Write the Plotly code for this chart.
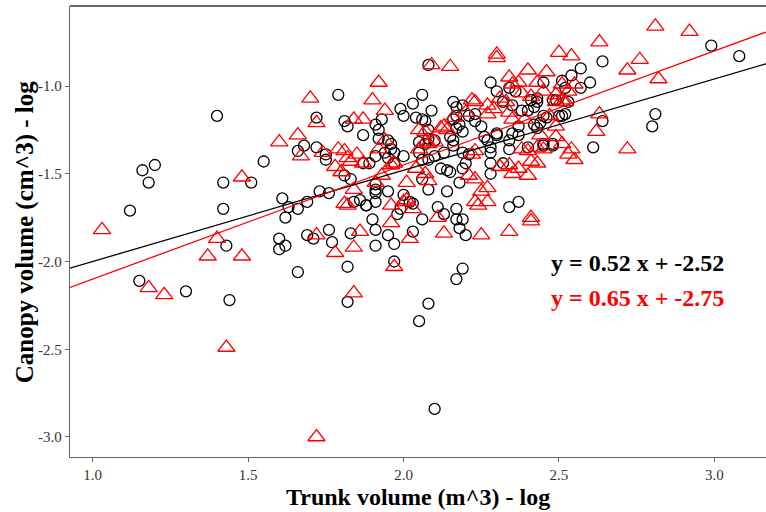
import plotly.graph_objects as go

# ---- data ----
black_x = [2.99, 3.08, 2.64, 2.57, 2.54, 2.60, 2.57, 2.81, 2.80, 2.61, 2.64, 2.51, 2.48, 2.45,
           1.40, 1.16, 1.20, 1.18, 1.12, 1.42, 1.51, 1.55, 1.42, 1.15, 1.30, 1.44, 1.43, 1.61,
           1.62, 1.63, 1.66, 1.69, 1.73, 1.76, 1.60, 1.60, 1.62, 1.66, 1.69, 1.71, 1.76, 1.77,
           1.82, 1.82, 1.83, 1.84, 1.86, 1.88, 1.79, 1.72, 1.66, 1.68, 1.72, 1.75, 1.75,
           2.08, 2.06, 2.03, 1.99, 2.00, 2.04, 2.06, 2.07, 2.09, 2.08, 1.81, 1.82, 1.87, 1.91,
           1.93, 1.92, 1.95, 1.96, 1.92, 1.96, 1.97, 2.00, 1.95, 1.94, 1.97, 1.91, 1.87, 1.81,
           1.83, 1.89, 1.91, 1.91, 1.91, 1.95, 2.00, 1.98, 2.02, 2.03, 1.99, 2.06, 2.03, 1.95,
           1.97, 1.91, 1.91, 1.90, 1.88, 1.91, 1.97, 2.05, 2.08, 2.10, 2.17, 2.19, 2.17, 2.19,
           2.17, 2.18, 2.20, 2.11, 2.13, 2.14, 2.08, 2.06, 2.12, 2.14, 2.15, 2.18, 2.19, 2.20,
           2.21, 2.19, 2.16, 2.16, 2.13, 2.10, 2.08, 2.06, 2.05, 2.05, 2.07, 2.08, 2.10, 2.15,
           2.17, 2.19, 2.18, 2.16, 2.17, 2.17, 2.16, 2.19, 2.21, 2.23, 2.23, 2.25, 2.26, 2.27,
           2.28, 2.28, 2.28, 2.28, 2.30, 2.30, 2.32, 2.34, 2.37, 2.34, 2.35, 2.37, 2.28, 2.30,
           2.34, 2.36, 2.32, 2.35, 2.38, 2.40, 2.42, 2.43, 2.45, 2.43, 2.45, 2.42, 2.43, 2.44,
           2.46, 2.48, 2.45, 2.40, 2.37, 2.34, 2.50, 2.52, 2.53, 2.49, 2.51, 2.52, 2.48, 2.41]
black_y = [-0.77, -0.83, -0.86, -0.90, -0.94, -0.98, -1.01, -1.16, -1.23, -1.35, -1.20, -1.17, -1.34, -1.34,
           -1.17, -1.48, -1.45, -1.55, -1.71, -1.55, -1.55, -1.43, -1.70, -2.11, -2.17, -2.22, -1.91, -1.64,
           -1.75, -1.69, -1.70, -1.66, -1.60, -1.61, -1.87, -1.93, -1.91, -2.06, -1.85, -1.87, -1.82, -1.89,
           -2.03, -2.23, -1.84, -1.66, -1.65, -1.68, -1.05, -1.18, -1.37, -1.34, -1.35, -1.42, -1.39,
           -0.88, -1.05, -1.10, -1.13, -1.17, -1.18, -1.19, -1.20, -1.14, -1.25, -1.20, -1.23, -1.28, -1.22,
           -1.19, -1.25, -1.31, -1.33, -1.30, -1.36, -1.38, -1.40, -1.41, -1.38, -1.44, -1.40, -1.44, -1.51,
           -1.53, -1.44, -1.56, -1.59, -1.61, -1.60, -1.62, -1.73, -1.66, -1.67, -1.70, -1.76, -1.83, -1.85,
           -1.90, -1.91, -1.82, -1.76, -1.68, -1.66, -2.00, -2.34, -2.24, -2.84, -2.10, -2.04, -1.76, -1.76,
           -1.70, -1.81, -1.85, -1.69, -1.73, -1.60, -1.59, -1.53, -1.47, -1.48, -1.49, -1.55, -1.47, -1.44,
           -1.39, -1.38, -1.34, -1.31, -1.38, -1.40, -1.42, -1.42, -1.38, -1.32, -1.33, -1.30, -1.31, -1.29,
           -1.24, -1.26, -1.22, -1.19, -1.17, -1.12, -1.09, -1.11, -1.17, -1.16, -1.20, -1.23, -1.29, -1.31,
           -1.38, -1.35, -1.44, -1.50, -1.28, -1.27, -1.44, -1.69, -1.66, -1.36, -1.27, -1.23, -0.98, -1.03,
           -1.01, -1.03, -1.09, -1.11, -1.14, -1.14, -1.12, -1.09, -0.98, -1.07, -1.17, -1.22, -1.24, -1.21,
           -1.18, -1.33, -1.33, -1.35, -1.28, -1.31, -1.17, -1.16, -1.09, -1.08, -0.97, -1.01, -1.08, -1.08]

red_x = [2.81, 2.92, 2.63, 2.50, 2.54, 2.30, 2.30, 2.09, 2.15, 2.76, 2.72, 2.82, 2.63, 2.62, 2.72,
         1.92, 1.70, 1.90, 1.94, 1.87, 1.84, 1.72, 1.60, 1.66, 1.67, 1.48, 1.03, 1.37, 1.48, 1.40,
         1.18, 1.23, 1.43, 1.72, 1.84, 1.97, 1.78, 1.84, 1.86, 1.72, 1.96, 2.02, 2.13, 2.25, 2.34,
         2.41, 2.41, 2.11, 1.81, 1.82, 1.84, 1.80, 1.78, 1.82, 1.83, 1.85, 1.81, 1.74, 1.79, 1.87,
         1.92, 1.94, 1.96, 1.97, 1.93, 1.91, 2.01, 2.01, 2.03, 2.00, 1.96, 2.08, 2.07, 2.04, 2.05,
         2.07, 2.08, 2.10, 2.05, 2.07, 2.12, 2.13, 2.14, 2.16, 2.22, 2.23, 2.20, 2.22, 2.23, 2.21,
         2.23, 2.25, 2.27, 2.27, 2.23, 2.24, 2.31, 2.34, 2.35, 2.37, 2.40, 2.41, 2.43, 2.43, 2.40,
         2.38, 2.45, 2.49, 2.51, 2.53, 2.55, 2.49, 2.49, 2.51, 2.53, 2.55, 2.52, 2.46, 2.43, 2.40,
         2.34, 2.35, 2.37, 2.38, 2.33, 2.34, 2.29, 2.27, 2.27, 2.31, 2.45, 2.41, 2.39, 2.35, 2.49,
         2.51, 2.47, 2.54, 2.44]
red_y = [-0.66, -0.69, -0.75, -0.81, -0.83, -0.82, -0.84, -0.88, -0.89, -0.85, -0.91, -0.96, -1.16, -1.26, -1.36,
         -0.98, -1.07, -1.08, -1.14, -1.19, -1.19, -1.21, -1.32, -1.28, -1.40, -1.52, -1.82, -1.97, -1.97, -1.87,
         -2.15, -2.19, -2.49, -3.00, -2.18, -2.03, -1.95, -1.92, -1.83, -1.85, -1.78, -1.87, -1.84, -1.85, -1.83,
         -1.75, -1.77, -1.75, -1.67, -1.68, -1.59, -1.49, -1.46, -1.41, -1.43, -1.39, -1.37, -1.38, -1.36, -1.44,
         -1.36, -1.31, -1.45, -1.44, -1.51, -1.55, -1.55, -1.65, -1.70, -1.66, -1.68, -1.54, -1.50, -1.47, -1.36,
         -1.32, -1.33, -1.32, -1.25, -1.26, -1.24, -1.23, -1.25, -1.18, -1.08, -1.09, -1.15, -1.39, -1.37, -1.51,
         -1.53, -1.60, -1.58, -1.66, -1.66, -1.68, -1.46, -1.45, -1.50, -1.47, -1.51, -1.43, -1.44, -1.35, -1.37,
         -1.36, -1.36, -1.29, -1.33, -1.39, -1.42, -1.23, -1.09, -1.08, -1.03, -0.99, -1.09, -0.92, -0.98, -0.91,
         -0.95, -0.99, -0.98, -1.04, -1.09, -1.15, -1.13, -1.16, -1.11, -1.07, -1.03, -1.06, -1.19, -1.19, -1.05,
         -0.99, -1.17, -1.36, -1.28]

black_fit = (0.52, -2.52)   # slope, intercept
red_fit = (0.65, -2.75)

x_range = [0.927, 3.166]
y_range = [-3.114, -0.544]
x_ticks = [1.0, 1.5, 2.0, 2.5, 3.0]
y_ticks = [-3.0, -2.5, -2.0, -1.5, -1.0]

FONT = "Liberation Serif"

fig = go.Figure()
fig.add_trace(go.Scatter(
    x=black_x, y=black_y, mode="markers",
    marker=dict(symbol="circle-open", size=11, color="black", line=dict(width=1.3, color="black")),
    showlegend=False, cliponaxis=True))
fig.add_trace(go.Scatter(
    x=red_x, y=red_y, mode="markers",
    marker=dict(symbol="triangle-up-open", size=15, color="red", line=dict(width=1.3, color="red")),
    showlegend=False, cliponaxis=True))

for (m, b), col in [(black_fit, "black"), (red_fit, "red")]:
    xs = x_range
    ys = [m * v + b for v in xs]
    fig.add_trace(go.Scatter(x=xs, y=ys, mode="lines", line=dict(color=col, width=1.3),
                             showlegend=False, hoverinfo="skip"))

fig.update_layout(
    width=766, height=512,
    margin=dict(l=70, r=0, t=6, b=55),
    paper_bgcolor="white", plot_bgcolor="white",
    font=dict(family=FONT, color="#333333"),
    xaxis=dict(range=x_range, tickvals=x_ticks, ticktext=[f"{v:.1f}" for v in x_ticks],
               showgrid=False, zeroline=False, showline=True, linecolor="#666666", linewidth=1.3,
               ticks="outside", ticklen=4, tickcolor="#666666", tickfont=dict(size=15, family=FONT, color="#333333")),
    yaxis=dict(range=y_range, tickvals=y_ticks, ticktext=[f"{v:.1f}" for v in y_ticks],
               showgrid=False, zeroline=False, showline=True, linecolor="#666666", linewidth=1.3,
               ticks="outside", ticklen=4, tickcolor="#666666", tickfont=dict(size=15, family=FONT, color="#333333")),
    shapes=[dict(type="line", xref="paper", yref="paper", x0=0, x1=1, y0=1, y1=1,
                 line=dict(color="#333333", width=1.3))],
    annotations=[
        dict(text="<b>Trunk volume (m^3) - log</b>", xref="paper", yref="paper", x=0.5, y=-0.088,
             xanchor="center", yanchor="middle", showarrow=False, font=dict(size=24, family=FONT, color="black")),
        dict(text="<b>Canopy volume (cm^3) - log</b>", xref="paper", yref="paper", x=-0.065, y=0.5,
             xanchor="center", yanchor="middle", textangle=-90, showarrow=False,
             font=dict(size=25, family=FONT, color="black")),
        dict(text=f"<b>y = {black_fit[0]:.2f} x + {black_fit[1]:.2f}</b>", xref="paper", yref="paper",
             x=(549 - 70) / 696, y=(457 - 263) / 451, xanchor="left", yanchor="middle", showarrow=False,
             font=dict(size=24, family=FONT, color="black")),
        dict(text=f"<b>y = {red_fit[0]:.2f} x + {red_fit[1]:.2f}</b>", xref="paper", yref="paper",
             x=(549 - 70) / 696, y=(457 - 298) / 451, xanchor="left", yanchor="middle", showarrow=False,
             font=dict(size=24, family=FONT, color="red")),
    ],
)

fig.write_html("out.html")
